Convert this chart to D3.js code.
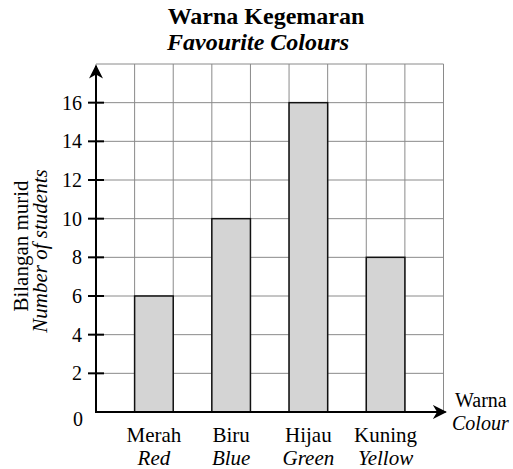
<!DOCTYPE html>
<html>
<head>
<meta charset="utf-8">
<script src="https://cdn.jsdelivr.net/npm/d3@7"></script>
<style>
  html, body { margin: 0; padding: 0; background: #fff; }
  svg { display: block; font-family: "Liberation Serif", "Times New Roman", serif; }
</style>
</head>
<body>
<svg id="chart" width="513" height="469"></svg>
<script>
// Favourite colours survey
const categories = ["Merah", "Biru", "Hijau", "Kuning"];
const categoriesEn = ["Red", "Blue", "Green", "Yellow"];
const students = [6, 10, 16, 8];
const yTicks = [2, 4, 6, 8, 10, 12, 14, 16];
const yMax = 18;

const svg = d3.select("#chart");
const plotLeft = 96, plotRight = 443.5, plotTop = 64, plotBottom = 412;

const x = d3.scaleBand().domain(categories).range([plotLeft, plotRight])
  .paddingInner(0.5).paddingOuter(0.5);
const y = d3.scaleLinear().domain([0, yMax]).range([plotBottom, plotTop]);

// Square grid: one column per half step of the band scale, one row per 2 students
const colW = x.step() / 2;
const nCols = Math.round((plotRight - plotLeft) / colW);
const grid = svg.append("g").attr("stroke", "#8a8a8a").attr("stroke-width", 1);
d3.range(0, nCols + 1).forEach(i => {
  grid.append("line")
    .attr("x1", plotLeft + i * colW).attr("x2", plotLeft + i * colW)
    .attr("y1", plotTop).attr("y2", plotBottom);
});
d3.range(0, yMax + 1, 2).forEach(v => {
  grid.append("line")
    .attr("x1", plotLeft).attr("x2", plotRight)
    .attr("y1", y(v)).attr("y2", y(v));
});

// Bars
svg.append("g").selectAll("rect").data(students).join("rect")
  .attr("x", (d, i) => x(categories[i]))
  .attr("y", d => y(d))
  .attr("width", x.bandwidth())
  .attr("height", d => y(0) - y(d))
  .attr("fill", "#d4d4d4")
  .attr("stroke", "#111")
  .attr("stroke-width", 1.5);

// Arrow heads
const defs = svg.append("defs");
defs.append("marker").attr("id", "arrow")
  .attr("viewBox", "0 0 10 10").attr("refX", 9).attr("refY", 5)
  .attr("markerWidth", 14).attr("markerHeight", 14)
  .attr("markerUnits", "userSpaceOnUse")
  .attr("orient", "auto")
  .append("path").attr("d", "M0,0 L10,5 L0,10 L3,5 Z").attr("fill", "#000");

// Axes
svg.append("line").attr("x1", plotLeft).attr("x2", plotLeft)
  .attr("y1", plotBottom + 1).attr("y2", plotTop + 2)
  .attr("stroke", "#000").attr("stroke-width", 2).attr("marker-end", "url(#arrow)");
svg.append("line").attr("x1", plotLeft - 1).attr("x2", plotRight + 2)
  .attr("y1", plotBottom).attr("y2", plotBottom)
  .attr("stroke", "#000").attr("stroke-width", 2).attr("marker-end", "url(#arrow)");

// Y ticks and labels
const yt = svg.append("g");
yTicks.forEach(v => {
  yt.append("line").attr("x1", plotLeft - 8).attr("x2", plotLeft + 8)
    .attr("y1", y(v)).attr("y2", y(v))
    .attr("stroke", "#000").attr("stroke-width", 2);
  yt.append("text").attr("x", plotLeft - 14).attr("y", y(v) + 7)
    .attr("text-anchor", "end").attr("font-size", 20).text(v);
});
svg.append("text").attr("x", plotLeft - 13).attr("y", plotBottom + 14)
  .attr("text-anchor", "end").attr("font-size", 20).text(0);

// Category labels
const cat = svg.append("g").attr("text-anchor", "middle").attr("font-size", 21);
categories.forEach((c, i) => {
  const cx = x(c) + x.bandwidth() / 2;
  cat.append("text").attr("x", cx).attr("y", 442).text(c);
  cat.append("text").attr("x", cx).attr("y", 465).attr("font-style", "italic").text(categoriesEn[i]);
});

// X axis title
svg.append("text").attr("x", 455).attr("y", 407).attr("font-size", 20).text("Warna");
svg.append("text").attr("x", 452).attr("y", 430).attr("font-size", 20)
  .attr("font-style", "italic").text("Colour");

// Y axis title
const yl = svg.append("g").attr("text-anchor", "middle").attr("font-size", 21);
yl.append("text").attr("transform", "translate(28,246) rotate(-90)").text("Bilangan murid");
yl.append("text").attr("transform", "translate(47,251) rotate(-90)")
  .attr("font-style", "italic").text("Number of students");

// Chart title
const t = svg.append("g").attr("text-anchor", "middle").attr("font-weight", "bold").attr("font-size", 24);
t.append("text").attr("x", 266).attr("y", 24).text("Warna Kegemaran");
t.append("text").attr("x", 258).attr("y", 50).attr("font-style", "italic").text("Favourite Colours");
</script>
</body>
</html>
